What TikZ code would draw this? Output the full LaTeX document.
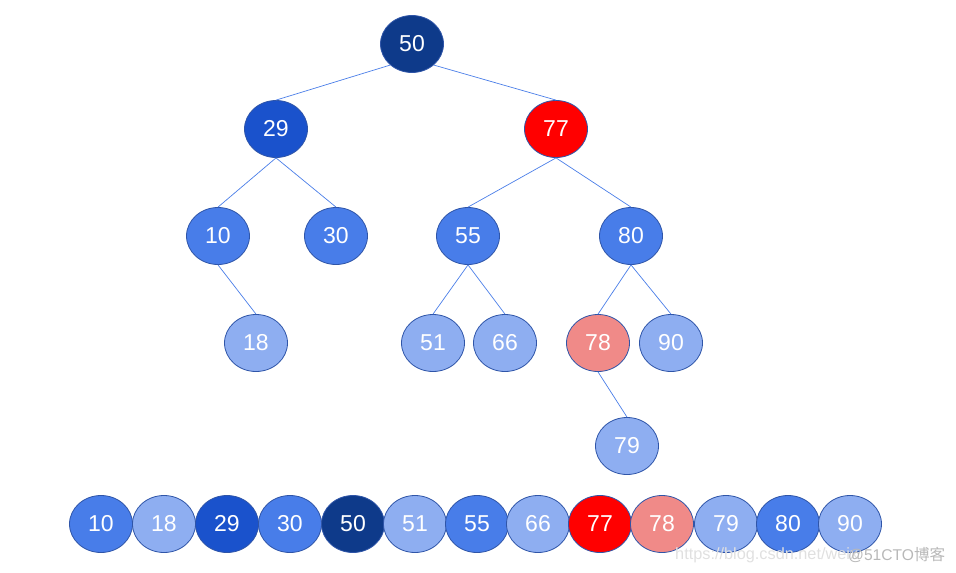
\documentclass[tikz,border=0pt]{standalone}
\usepackage{fontspec}
\usetikzlibrary{shapes.geometric}
\setmainfont{Liberation Sans}
\newfontfamily\cjk{Noto Sans CJK SC}
\definecolor{cnavy}{HTML}{0E3A8A}
\definecolor{cdeep}{HTML}{1A52CC}
\definecolor{cmid}{HTML}{487DE9}
\definecolor{clight}{HTML}{8EAEF1}
\definecolor{cred}{HTML}{FF0000}
\definecolor{cpink}{HTML}{F08A88}
\definecolor{cborder}{HTML}{2F55A8}
\definecolor{cedge}{HTML}{4A7EE8}
\begin{document}
\begin{tikzpicture}[x=1pt,y=-1pt,
  bnode/.style={ellipse,draw=cborder,line width=0.8pt,minimum width=63pt,minimum height=57pt,inner sep=0pt,text=white,font=\fontsize{23}{25}\selectfont},
  navy/.style={bnode,fill=cnavy},
  deep/.style={bnode,fill=cdeep},
  mid/.style={bnode,fill=cmid},
  light/.style={bnode,fill=clight},
  hot/.style={bnode,fill=cred},
  pink/.style={bnode,fill=cpink},
  edge/.style={draw=cedge,line width=0.7pt}]
\useasboundingbox (0,0) rectangle (956,573);
% tree
\node[navy] (t50) at (412,44) {50};
\node[deep] (t29) at (276,129) {29};
\node[hot] (t77) at (556,129) {77};
\node[mid] (t10) at (218,236) {10};
\node[mid] (t30) at (336,236) {30};
\node[mid] (t55) at (468,236) {55};
\node[mid] (t80) at (631,236) {80};
\node[light] (t18) at (256,343) {18};
\node[light] (t51) at (433,343) {51};
\node[light] (t66) at (505,343) {66};
\node[pink] (t78) at (598,343) {78};
\node[light] (t90) at (671,343) {90};
\node[light] (t79) at (627,446) {79};
\draw[edge] (t50.-136) -- (t29.north);
\draw[edge] (t50.-44) -- (t77.north);
\draw[edge] (t29.south) -- (t10.north);
\draw[edge] (t29.south) -- (t30.north);
\draw[edge] (t77.south) -- (t55.north);
\draw[edge] (t77.south) -- (t80.north);
\draw[edge] (t10.south) -- (t18.north);
\draw[edge] (t55.south) -- (t51.north);
\draw[edge] (t55.south) -- (t66.north);
\draw[edge] (t80.south) -- (t78.north);
\draw[edge] (t80.south) -- (t90.north);
\draw[edge] (t78.south) -- (t79.north);
% sorted row
\node[mid] (r10) at (101,524) {10};
\node[light] (r18) at (164,524) {18};
\node[deep] (r29) at (227,524) {29};
\node[mid] (r30) at (290,524) {30};
\node[navy] (r50) at (353,524) {50};
\node[light] (r51) at (415,524) {51};
\node[mid] (r55) at (477,524) {55};
\node[light] (r66) at (538,524) {66};
\node[hot] (r77) at (600,524) {77};
\node[pink] (r78) at (662,524) {78};
\node[light] (r79) at (726,524) {79};
\node[mid] (r80) at (788,524) {80};
\node[light] (r90) at (850,524) {90};
% watermark
\node[anchor=west,inner sep=0pt,text=black!12,font=\fontsize{16.3}{17}\selectfont] (wm1) at (675,555) {https://blog.csdn.net/weix};
\node[anchor=west,inner sep=0pt,text=black!28,font=\fontsize{15.6}{17}\selectfont] (wm2) at (848,555) {@51CTO{\cjk 博客}};
\end{tikzpicture}
\end{document}
